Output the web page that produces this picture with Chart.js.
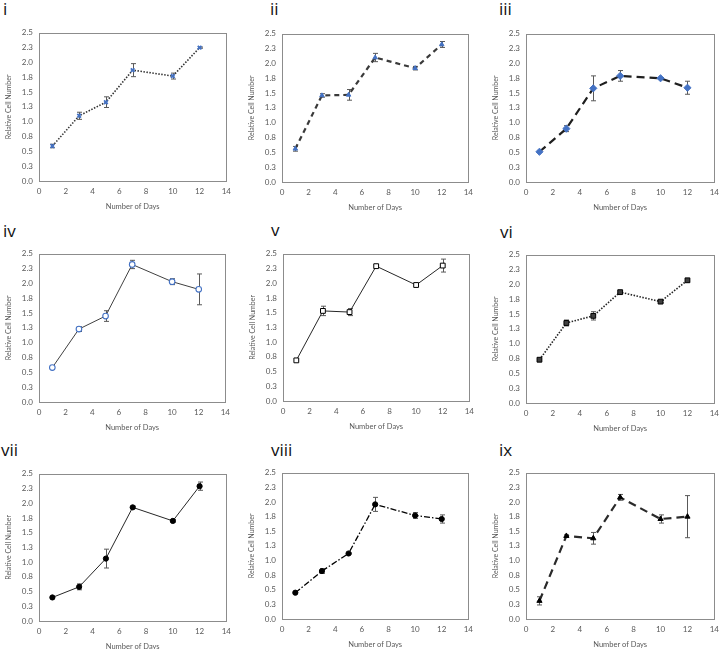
<!DOCTYPE html>
<html>
<head>
<meta charset="utf-8">
<script src="https://cdn.jsdelivr.net/npm/chart.js@4.4.1/dist/chart.umd.min.js"></script>
<style>
  html, body { margin: 0; padding: 0; background: #fff; }
  #wrap { position: relative; width: 724px; height: 649px; overflow: hidden; }
  canvas { position: absolute; }
  .tag { position: absolute; font-family: "Open Sans", Lato, sans-serif; font-size: 17px; line-height: 17px; color: #111; }
</style>
</head>
<body>
<div id="wrap"></div>
<script>
// shared axis values
const days = [1, 3, 5, 7, 10, 12];
const xTicks = [0, 2, 4, 6, 8, 10, 12, 14];
const yTicks = [0, 0.25, 0.5, 0.75, 1, 1.25, 1.5, 1.75, 2, 2.25, 2.5];

// relative cell number for each panel, with error (+/-)
const valuesI = [0.59, 1.10, 1.33, 1.87, 1.77, 2.25];
const errorsI = [0.03, 0.06, 0.09, 0.11, 0.05, 0.01];
const valuesII = [0.56, 1.46, 1.47, 2.10, 1.92, 2.32];
const errorsII = [0.04, 0.03, 0.09, 0.07, 0.03, 0.05];
const valuesIII = [0.51, 0.90, 1.58, 1.79, 1.75, 1.59];
const errorsIII = [0.01, 0.05, 0.21, 0.09, 0.01, 0.11];
const valuesIV = [0.58, 1.23, 1.45, 2.32, 2.03, 1.90];
const errorsIV = [0.01, 0.04, 0.09, 0.07, 0.05, 0.26];
const valuesV = [0.69, 1.53, 1.51, 2.29, 1.97, 2.30];
const errorsV = [0.01, 0.08, 0.06, 0.02, 0.01, 0.11];
const valuesVI = [0.73, 1.35, 1.47, 1.87, 1.71, 2.07];
const errorsVI = [0.01, 0.05, 0.07, 0.02, 0.02, 0.02];
const valuesVII = [0.40, 0.58, 1.06, 1.93, 1.70, 2.29];
const errorsVII = [0.01, 0.05, 0.16, 0.02, 0.02, 0.07];
const valuesVIII = [0.45, 0.82, 1.12, 1.96, 1.77, 1.71];
const errorsVIII = [0.01, 0.04, 0.01, 0.12, 0.05, 0.07];
const valuesIX = [0.31, 1.42, 1.38, 2.08, 1.71, 1.75];
const errorsIX = [0.07, 0.02, 0.10, 0.05, 0.07, 0.36];

const panelNames = ['i', 'ii', 'iii', 'iv', 'v', 'vi', 'vii', 'viii', 'ix'];
const yTitle = 'Relative Cell Number';
const xTitle = 'Number of Days';

// plot box of each panel (left, top, right, bottom) and tag position
const layout = [
  { box: [39, 30, 231, 181], tag: [3, 0] },
  { box: [282, 31, 473, 182], tag: [270, 0] },
  { box: [526, 31, 719, 182], tag: [499, 0] },
  { box: [39, 251, 230, 402], tag: [3, 222] },
  { box: [283, 251, 474, 401], tag: [271, 221] },
  { box: [526, 252, 719, 403], tag: [500, 223] },
  { box: [39, 471, 231, 621], tag: [1, 441] },
  { box: [282, 470, 473, 619], tag: [271, 441] },
  { box: [526, 470, 719, 619], tag: [499, 441] },
];

const blue = '#4472C4';
const styles = [
  { dash: [1.5, 1.5], width: 1.6, line: '#333', point: 'crossRot', r: 2.6, bg: blue, bd: blue, bw: 1.8 },
  { dash: [5, 4], width: 2.2, line: '#3a3a3a', point: 'triangle', r: 2.6, bg: blue, bd: blue, bw: 1 },
  { dash: [8, 5], width: 2.2, line: '#1f1f1f', point: 'rectRot', r: 3.6, bg: blue, bd: blue, bw: 1 },
  { dash: [], width: 1, line: '#404040', point: 'circle', r: 2.8, bg: '#fff', bd: blue, bw: 1.1 },
  { dash: [], width: 1, line: '#262626', point: 'rect', r: 3.4, bg: '#fff', bd: '#000', bw: 1 },
  { dash: [1.5, 1.5], width: 1.6, line: '#262626', point: 'rect', r: 3.4, bg: '#404040', bd: '#000', bw: 1 },
  { dash: [], width: 1, line: '#262626', point: 'circle', r: 2.6, bg: '#000', bd: '#000', bw: 1 },
  { dash: [6, 2, 1.5, 2], width: 1.3, line: '#000', point: 'circle', r: 2.6, bg: '#000', bd: '#000', bw: 1 },
  { dash: [8, 5], width: 2.2, line: '#2a2a2a', point: 'triangle', r: 3, bg: '#000', bd: '#000', bw: 1 },
];

const allValues = [valuesI, valuesII, valuesIII, valuesIV, valuesV, valuesVI, valuesVII, valuesVIII, valuesIX];
const allErrors = [errorsI, errorsII, errorsIII, errorsIV, errorsV, errorsVI, errorsVII, errorsVIII, errorsIX];

// error bars + frame, drawn from the chart's own scales
const errorBars = {
  id: 'errorBars',
  beforeDatasetsDraw(chart) {
    const ctx = chart.ctx;
    const xs = chart.scales.x;
    const ys = chart.scales.y;
    chart.data.datasets.forEach(ds => {
      if (!ds.errors) return;
      ctx.save();
      ctx.strokeStyle = '#595959';
      ctx.lineWidth = 1;
      ds.data.forEach((p, i) => {
        const e = ds.errors[i];
        const px = Math.round(xs.getPixelForValue(p.x)) + 0.5;
        const top = ys.getPixelForValue(p.y + e);
        const bot = ys.getPixelForValue(p.y - e);
        ctx.beginPath();
        ctx.moveTo(px, top);
        ctx.lineTo(px, bot);
        ctx.moveTo(px - 2.5, top);
        ctx.lineTo(px + 2.5, top);
        ctx.moveTo(px - 2.5, bot);
        ctx.lineTo(px + 2.5, bot);
        ctx.stroke();
      });
      ctx.restore();
    });
  },
  afterDraw(chart) {
    const a = chart.chartArea;
    const ctx = chart.ctx;
    ctx.save();
    ctx.strokeStyle = '#8c8c8c';
    ctx.lineWidth = 1;
    ctx.strokeRect(Math.round(a.left) + 0.5, Math.round(a.top) + 0.5,
      Math.round(a.right - a.left), Math.round(a.bottom - a.top));
    ctx.restore();
  },
};

const wrap = document.getElementById('wrap');
const padL = 40, padT = 8, padR = 6, padB = 32;
const font = "Lato, 'Open Sans', sans-serif";

panelNames.forEach((name, k) => {
  const [l, t, r, b] = layout[k].box;
  const st = styles[k];

  const tag = document.createElement('div');
  tag.className = 'tag';
  tag.style.left = layout[k].tag[0] + 'px';
  tag.style.top = layout[k].tag[1] + 'px';
  tag.textContent = name;
  wrap.appendChild(tag);

  const cv = document.createElement('canvas');
  const w = (r - l) + padL + padR;
  const h = (b - t) + padT + padB;
  cv.width = w;
  cv.height = h;
  cv.style.left = (l - padL) + 'px';
  cv.style.top = (t - padT) + 'px';
  cv.style.width = w + 'px';
  cv.style.height = h + 'px';
  wrap.appendChild(cv);

  new Chart(cv, {
    type: 'scatter',
    data: {
      datasets: [{
        data: days.map((d, i) => ({ x: d, y: allValues[k][i] })),
        errors: allErrors[k],
        showLine: true,
        borderColor: st.line,
        borderWidth: st.width,
        borderDash: st.dash,
        pointStyle: st.point,
        pointRadius: st.r,
        pointBackgroundColor: st.bg,
        pointBorderColor: st.bd,
        pointBorderWidth: st.bw,
      }],
    },
    options: {
      responsive: false,
      animation: false,
      devicePixelRatio: 1,
      layout: { padding: { left: 0, top: padT, right: padR, bottom: 0 } },
      plugins: { legend: { display: false }, tooltip: { enabled: false } },
      scales: {
        x: {
          type: 'linear',
          min: 0,
          max: 14,
          afterBuildTicks: s => { s.ticks = xTicks.map(v => ({ value: v })); },
          afterFit: s => { s.height = padB; },
          grid: { display: false, drawTicks: false },
          border: { display: false },
          ticks: { color: '#595959', font: { family: font, size: 8 }, padding: 6, maxRotation: 0 },
          title: { display: true, text: xTitle, color: '#595959', font: { family: font, size: 7.5 }, padding: { top: 0, bottom: 2 } },
        },
        y: {
          min: 0,
          max: 2.5,
          afterBuildTicks: s => { s.ticks = yTicks.map(v => ({ value: v })); },
          afterFit: s => { s.width = padL; },
          grid: { display: false, drawTicks: false },
          border: { display: false },
          ticks: { color: '#595959', font: { family: font, size: 8 }, padding: 6, callback: v => v.toFixed(1) },
          title: { display: true, text: yTitle, color: '#595959', font: { family: font, size: 7 }, padding: { top: 6, bottom: 0 } },
        },
      },
    },
    plugins: [errorBars],
  });
});
</script>
</body>
</html>
